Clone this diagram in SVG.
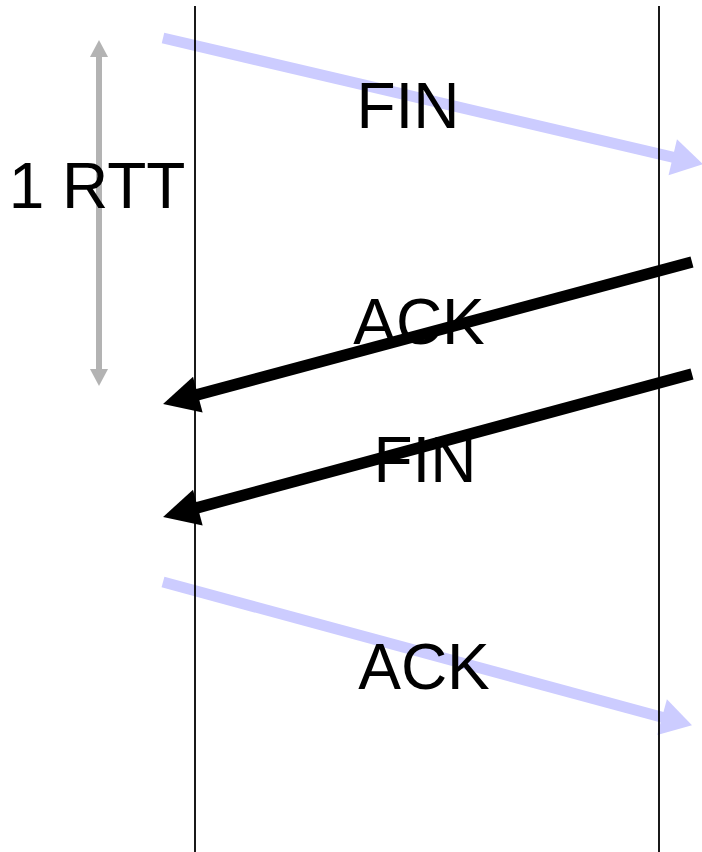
<svg xmlns="http://www.w3.org/2000/svg" width="702" height="852" viewBox="0 0 702 852">
  <style>
    .seg-light { stroke: #ccccff; stroke-width: 11; fill: none; }
    .seg-dark { stroke: #000000; stroke-width: 11.5; fill: none; }
    .span { stroke: #b3b3b3; stroke-width: 6; fill: none; }
    .timeline { stroke: #000000; stroke-width: 1.8; }
    .label { font-family: "Liberation Sans", Arial, sans-serif; font-size: 64px; fill: #000000; text-anchor: middle; }
  </style>
  <defs>
    <marker id="head-light" markerUnits="userSpaceOnUse" orient="auto" markerWidth="33" markerHeight="38" refX="2" refY="19" viewBox="0 0 33 38" overflow="visible">
      <path d="M0,0.5 L31,19 L0,37.5 Z" fill="#ccccff"/>
    </marker>
    <marker id="head-dark" markerUnits="userSpaceOnUse" orient="auto" markerWidth="37" markerHeight="38" refX="2" refY="19" viewBox="0 0 37 38" overflow="visible">
      <path d="M0,0.5 L36,19 L0,37.5 Z" fill="#000000"/>
    </marker>
    <marker id="head-span" markerUnits="userSpaceOnUse" orient="auto-start-reverse" markerWidth="18" markerHeight="18" refX="1" refY="9" viewBox="0 0 18 18" overflow="visible">
      <path d="M0,0 L17,9 L0,18 Z" fill="#b3b3b3"/>
    </marker>
  </defs>

  <!-- message arrows between the two hosts -->
  <g id="connectors">
    <path id="msg-fin-1" class="seg-light" d="M163,38 L674.7,157.6" marker-end="url(#head-light)"/>
    <path id="msg-ack-1" class="seg-dark" d="M692,262 L195.9,395.1" marker-end="url(#head-dark)"/>
    <path id="msg-fin-2" class="seg-dark" d="M692,374 L195.9,508.1" marker-end="url(#head-dark)"/>
    <path id="msg-ack-2" class="seg-light" d="M163,582 L664,717.7" marker-end="url(#head-light)"/>
    <path id="rtt-span" class="span" d="M99,56 L99,370" marker-start="url(#head-span)" marker-end="url(#head-span)"/>
  </g>

  <!-- host timelines -->
  <g id="host-left">
    <line class="timeline" x1="195" y1="6" x2="195" y2="852"/>
  </g>
  <g id="host-right">
    <line class="timeline" x1="659" y1="6" x2="659" y2="852"/>
  </g>

  <!-- labels -->
  <g id="label-rtt"><text class="label" x="97" y="208">1 RTT</text></g>
  <g id="label-fin-1"><text class="label" x="408" y="128">FIN</text></g>
  <g id="label-ack-1"><text class="label" x="419" y="344">ACK</text></g>
  <g id="label-fin-2"><text class="label" x="425" y="482">FIN</text></g>
  <g id="label-ack-2"><text class="label" x="424" y="689">ACK</text></g>
</svg>
